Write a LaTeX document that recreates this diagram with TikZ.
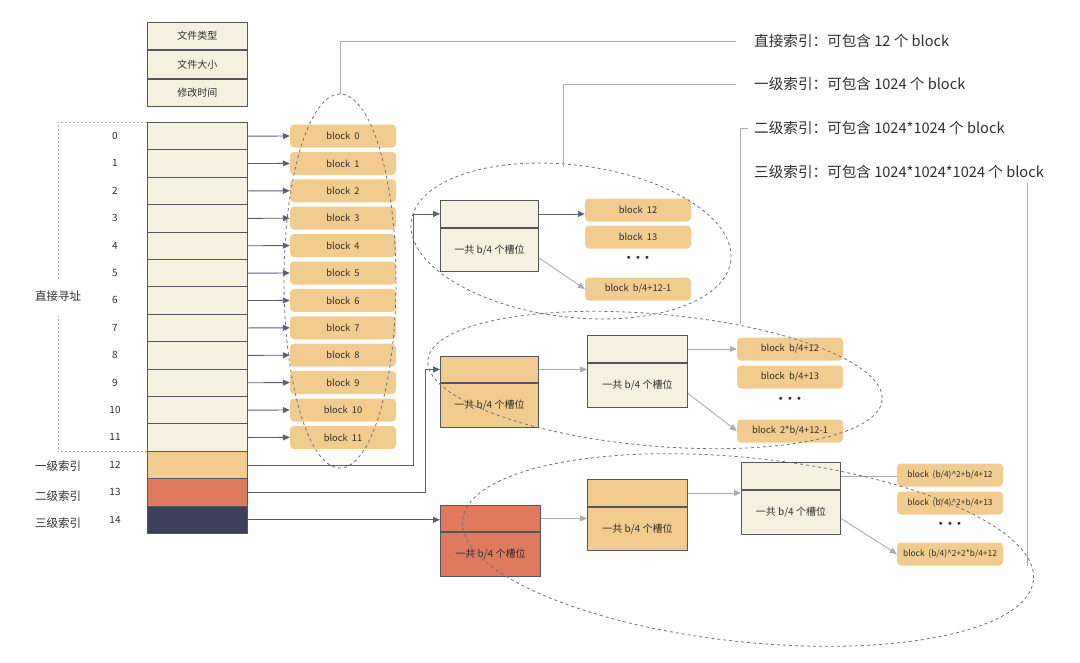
\documentclass[tikz,border=0pt]{standalone}
\usepackage{fontspec}
\setmainfont{Noto Sans CJK SC}
\newfontfamily\dotfont{DejaVu Sans}
\usetikzlibrary{positioning, arrows.meta}

\definecolor{cream}{HTML}{F4F1DE}
\definecolor{peach}{HTML}{F2CC8F}
\definecolor{coral}{HTML}{E07A5F}
\definecolor{navy}{HTML}{3D405B}
\definecolor{frame}{HTML}{55555F}
\definecolor{guide}{HTML}{ABABAB}
\definecolor{ink}{HTML}{2E2E2E}

\begin{document}
\begin{tikzpicture}[
    x=1pt, y=-1pt,
    every node/.style={inner sep=0pt, text=ink},
    cell/.style={draw=frame, line width=0.9pt, fill=cream, minimum width=100pt,
                 minimum height=27.4pt, anchor=north west, font=\fontsize{10}{12}\selectfont},
    blk/.style={fill=peach, rounded corners=4pt, minimum width=106pt, minimum height=23pt,
                font=\fontsize{9.3}{10}\selectfont},
    wideblk/.style={blk, font=\fontsize{8.4}{10}\selectfont},
    dots/.style={font=\dotfont\fontsize{10}{12}\selectfont},
    side/.style={font=\fontsize{11.5}{12}\selectfont},
    note/.style={anchor=west, font=\fontsize{14.6}{16}\selectfont},
    ptr/.style={draw=navy!85, line width=0.9pt, -{Triangle[length=7pt,width=6pt]}},
    gptr/.style={draw=guide, line width=0.9pt, -{Triangle[length=7pt,width=6pt]}},
    oval/.style={draw=navy!75, dashed, line width=0.8pt},
    lead/.style={draw=guide, line width=0.9pt},
    bracket/.style={draw=guide, line width=0.8pt, dash pattern=on 2pt off 2pt}
]
    \useasboundingbox (0,0) rectangle (1080,662);

    % file attributes
    \node[cell] (ftype) at (147,22) {文件类型};
    \node[cell, below=0pt of ftype] (fsize) {文件大小};
    \node[cell, below=0pt of fsize] (fmtime) {修改时间};

    % inode pointer table
    \foreach \i in {0,...,11} {
        \node[cell] (row\i) at (147,{122+27.4*\i}) {};
    }
    \node[cell, fill=peach] (row12) at (147,{122+27.4*12}) {};
    \node[cell, fill=coral] (row13) at (147,{122+27.4*13}) {};
    \node[cell, fill=navy] (row14) at (147,{122+27.4*14}) {};
    \foreach \i in {0,...,14} {
        \node[font=\fontsize{10}{12}\selectfont] (num\i) at (115,{136+27.4*\i}) {\i};
    }

    \node[side] (addr) at (58,296) {直接寻址};
    \node[side] (lv1) at (58,466) {一级索引};
    \node[side] (lv2) at (58,496) {二级索引};
    \node[side] (lv3) at (58,523) {三级索引};
    \draw[bracket] (row0.north west) -| ([yshift=10pt]addr.north);
    \draw[bracket] (row11.south west) -| ([yshift=-14pt]addr.south);

    % direct blocks
    \foreach \i in {0,...,11} {
        \node[blk] (blk\i) at (343,{136+27.4*\i}) {block\ \ \i};
        \draw[ptr] (row\i.east) -- (blk\i.west);
    }

    % single indirect
    \node[cell, minimum width=98pt, minimum height=27pt] (one) at (440,200) {};
    \node[cell, minimum width=98pt, minimum height=43pt, below=0pt of one] (oneslot) {一共 b/4 个槽位};
    \node[blk] (b12) at (638,210) {block\ \ 12};
    \node[blk] (b13) at (638,237) {block\ \ 13};
    \node[dots] (dotsa) at (638,259) {• • •};
    \node[blk] (bone) at (638,289) {block\ \ b/4+12-1};
    \draw[ptr] (row12.east) -- ++(166,0) |- (one.west);
    \draw[ptr] (one.east) -- (one.east -| b12.west);
    \draw[gptr] ([yshift=-8pt]oneslot.east) -- (bone.west);

    % double indirect
    \node[cell, fill=peach, minimum width=98pt, minimum height=26pt] (two) at (440,356) {};
    \node[cell, fill=peach, minimum width=98pt, minimum height=44pt, below=0pt of two] (twoslot) {一共 b/4 个槽位};
    \node[cell, minimum width=100pt, minimum height=27pt] (twob) at (587,335) {};
    \node[cell, minimum width=100pt, minimum height=44pt, below=0pt of twob] (twobslot) {一共 b/4 个槽位};
    \node[blk] (c1) at (790,349) {block\ \ b/4+12};
    \node[blk] (c2) at (790,377) {block\ \ b/4+13};
    \node[dots] (dotsb) at (790,400) {• • •};
    \node[blk] (c3) at (790,431) {block\ \ 2*b/4+12-1};
    \draw[ptr] (row13.east) -- ++(178,0) |- (two.west);
    \draw[gptr] (two.east) -- (two.east -| twobslot.west);
    \draw[gptr] (twob.east) -- (twob.east -| c1.west);
    \draw[gptr] ([yshift=-8pt]twobslot.east) -- (c3.west);

    % triple indirect
    \node[cell, fill=coral, minimum width=100pt, minimum height=26pt] (three) at (440,505) {};
    \node[cell, fill=coral, minimum width=100pt, minimum height=44pt, below=0pt of three] (threeslot) {一共 b/4 个槽位};
    \node[cell, fill=peach, minimum width=100pt, minimum height=27pt] (threeb) at (587,479) {};
    \node[cell, fill=peach, minimum width=100pt, minimum height=43pt, below=0pt of threeb] (threebslot) {一共 b/4 个槽位};
    \node[cell, minimum width=99pt, minimum height=27pt] (threec) at (741,462) {};
    \node[cell, minimum width=99pt, minimum height=44pt, below=0pt of threec] (threecslot) {一共 b/4 个槽位};
    \node[wideblk] (d1) at (950,475) {block\ \ (b/4)\textasciicircum 2+b/4+12};
    \node[wideblk] (d2) at (950,503) {block\ \ (b/4)\textasciicircum 2+b/4+13};
    \node[dots] (dotsc) at (950,525) {• • •};
    \node[wideblk] (d3) at (950,554) {block\ \ (b/4)\textasciicircum 2+2*b/4+12};
    \draw[ptr] (row14.east) -- (row14.east -| three.west);
    \draw[gptr] (three.east) -- (three.east -| threebslot.west);
    \draw[gptr] (threeb.east) -- (threeb.east -| threecslot.west);
    \draw[lead] (threec.east) -- (threec.east -| d1.west);
    \draw[gptr] ([yshift=-6pt]threecslot.east) -- (d3.west);

    % groups
    \draw[oval] (340,281) ellipse [x radius=56, y radius=187];
    \draw[oval, rotate around={-7:(571,241)}] (571,241) ellipse [x radius=161, y radius=76];
    \draw[oval, rotate around={-5:(655,380)}] (655,380) ellipse [x radius=228, y radius=66];
    \draw[oval, rotate around={-6:(748,550)}] (748,550) ellipse [x radius=287, y radius=92];

    % notes
    \node[note] (n1) at (754,41) {直接索引：可包含 12 个 block};
    \node[note] (n2) at (754,84) {一级索引：可包含 1024 个 block};
    \node[note] (n3) at (754,128) {二级索引：可包含 1024*1024 个 block};
    \node[note] (n4) at (754,172) {三级索引：可包含 1024*1024*1024 个 block};
    \coordinate (top1) at (340,94);
    \coordinate (top2) at (563,167);
    \coordinate (top3) at (740,324);
    \coordinate (top4) at (1027,566);
    \draw[lead] (top1) |- ([xshift=-18pt]n1.west);
    \draw[lead] (top2) |- ([xshift=-18pt]n2.west);
    \draw[lead] (top3) |- ([xshift=-6pt]n3.west);
    \draw[lead] (top4) -- (top4 |- 0,183);
\end{tikzpicture}
\end{document}
